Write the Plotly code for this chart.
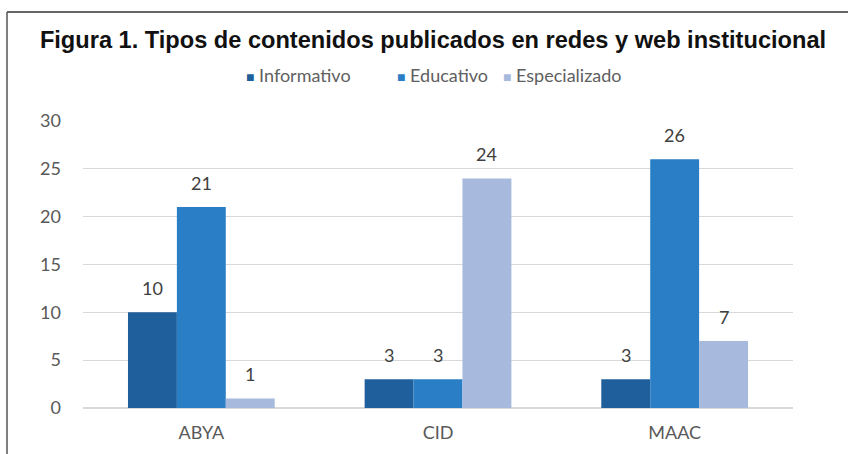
import plotly.graph_objects as go

categories = ["ABYA", "CID", "MAAC"]
informativo = [10, 3, 3]
educativo = [21, 3, 26]
especializado = [1, 24, 7]
y_ticks = [0, 5, 10, 15, 20, 25, 30]
series_names = ["Informativo", "Educativo", "Especializado"]
series_values = [informativo, educativo, especializado]
series_colors = ["#1F5F9C", "#2A7EC5", "#A7B9DC"]

W, H = 848, 454
ml, mr, mt, mb = 83, 55, 121, 46
pw, ph = W - ml - mr, H - mt - mb
BARGAP = 0.38
FONT = "Lato"

def px_x(x):
    return (x - ml) / pw

def px_y(y):
    return 1 - (y - mt) / ph

fig = go.Figure()
for name, vals, col in zip(series_names, series_values, series_colors):
    fig.add_trace(go.Bar(
        name=name, x=categories, y=vals, marker=dict(color=col, line=dict(width=0)),
        showlegend=False,
    ))

# data labels through the axes (x category, y value), offset by group slot
bar_w = pw / len(categories) * (1 - BARGAP) / len(series_names)
annotations = []
for i, vals in enumerate(series_values):
    for cat, v in zip(categories, vals):
        annotations.append(dict(
            x=cat, y=v, xref="x", yref="y", text=str(v), showarrow=False,
            xshift=(i - 1) * bar_w, yanchor="bottom", yshift=11,
            font=dict(family=FONT, size=18, color="#404040"),
        ))

# legend as text with coloured squares
legend_left_px = [244, 395, 501]
for name, col, lx in zip(series_names, series_colors, legend_left_px):
    annotations.append(dict(
        x=px_x(lx), y=px_y(75), xref="paper", yref="paper", xanchor="left", yanchor="middle",
        text=f"<span style='color:{col};font-size:14px'>■</span> {name}", showarrow=False,
        font=dict(family=FONT, size=18, color="#606060"),
    ))

fig.update_layout(
    width=W, height=H,
    margin=dict(l=ml, r=mr, t=mt, b=mb),
    paper_bgcolor="white", plot_bgcolor="white",
    barmode="group", bargap=BARGAP, bargroupgap=0,
    showlegend=False,
    title=dict(text="<b>Figura 1. Tipos de contenidos publicados en redes y web institucional</b>",
               xref="container", x=433 / W, xanchor="center", y=1 - 40 / H, yanchor="middle",
               font=dict(family="Liberation Sans", size=23.6, color="#111111")),
    xaxis=dict(showgrid=False, showline=False, ticks="", ticklabelstandoff=12,
               tickfont=dict(family=FONT, size=18, color="#595959")),
    yaxis=dict(range=[0, 30], tickvals=y_ticks, showgrid=True, gridcolor="#D9D9D9",
               zeroline=True, zerolinecolor="#D9D9D9", showline=False, ticks="",
               ticklabelstandoff=21,
               tickfont=dict(family=FONT, size=18, color="#595959")),
    annotations=annotations,
    shapes=[
        dict(type="line", xref="paper", yref="paper", x0=px_x(7), x1=px_x(W + 5),
             y0=px_y(12), y1=px_y(12), line=dict(color="#333333", width=1.5)),
        dict(type="line", xref="paper", yref="paper", x0=px_x(7), x1=px_x(7),
             y0=px_y(12), y1=px_y(H + 5), line=dict(color="#555555", width=1.5)),
    ],
)

fig.write_html("out.html")
